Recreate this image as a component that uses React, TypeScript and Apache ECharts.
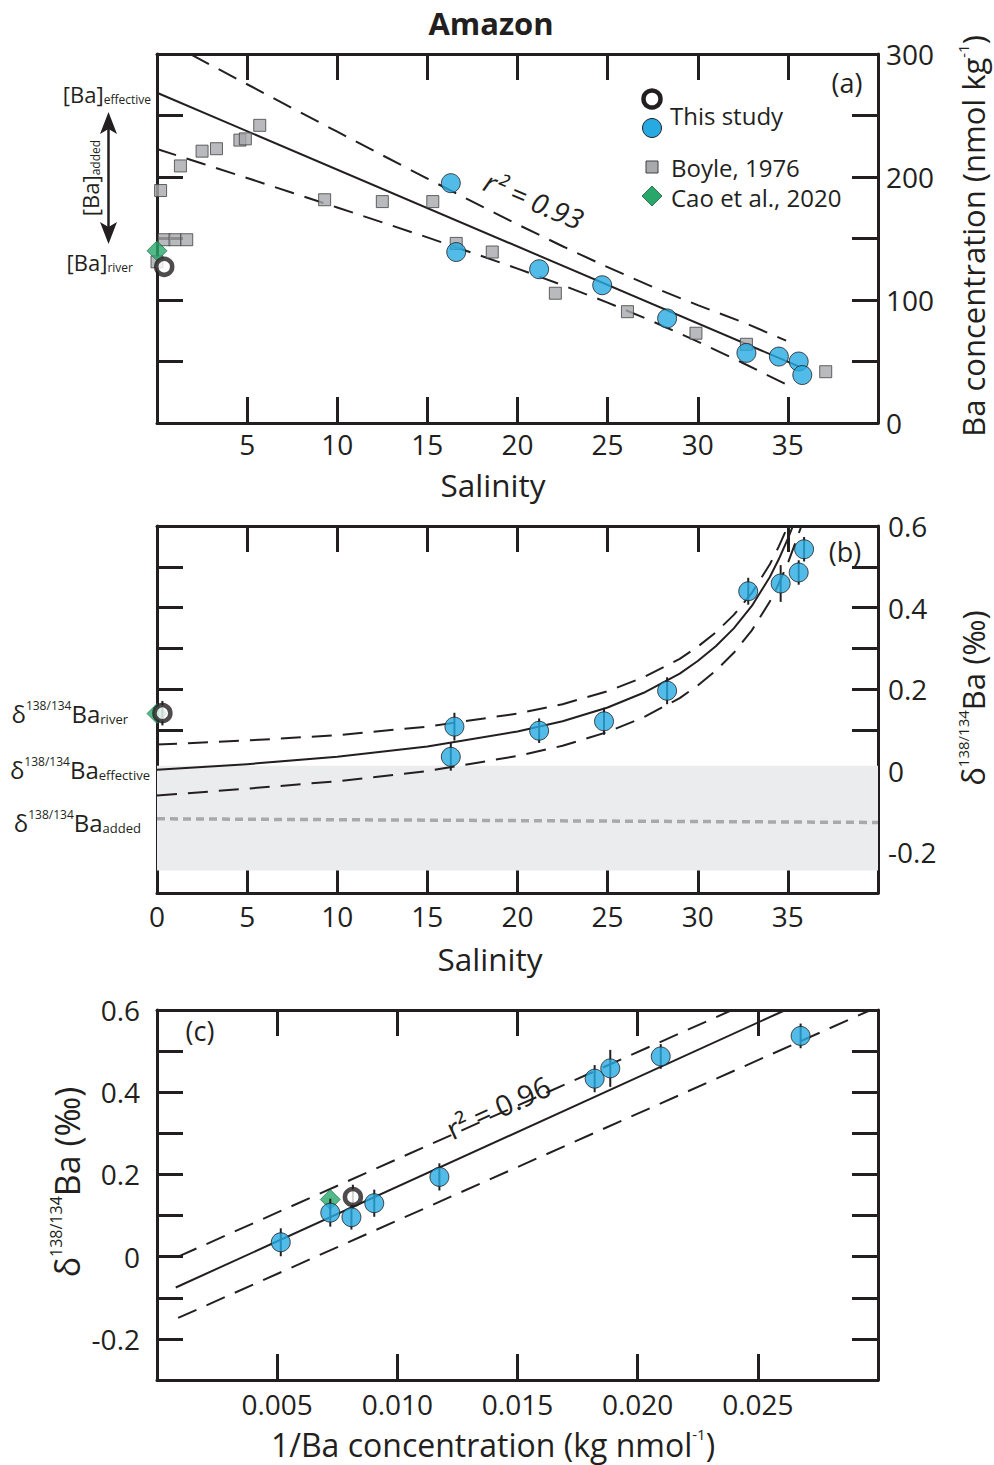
import React, { useEffect, useRef } from 'react';
import * as echarts from 'echarts';

const FONT = '"Open Sans", "Noto Sans", sans-serif';
const INK = '#231f20';
const BLUE = '#27aae1';
const GREY_SQ = '#a7a9ac';
const GREEN = '#27a86a';

// ---------- Panel (a): Ba concentration vs salinity ----------
const boyleSal = [0, 0.2, 0.4, 1.0, 1.65, 1.3, 2.5, 3.3, 4.6, 4.9, 5.7, 9.3, 12.5, 15.3, 16.6, 18.6, 22.1, 26.1, 29.9, 32.7, 37.1];
const boyleBa = [131, 189, 149, 149, 149, 209, 221, 223, 230, 231, 242, 181.5, 180, 180, 146, 139, 105.5, 90.5, 73, 64, 41.7];
const studySalA = [16.3, 16.6, 21.2, 24.7, 28.3, 32.7, 34.5, 35.6, 35.8];
const studyBaA = [195, 139, 125, 112, 85, 57, 54, 50, 39];
const riverA = [0.4, 127];
const caoA = [0, 140];
const fitSalA = [0, 35.6];
const fitBaA = [268.5, 46];
const upSalA = [1.9, 5, 7.5, 10, 12.5, 15, 17.5, 20, 22.5, 25, 27.5, 30, 32.5, 34.9];
const upBaA = [299.4, 275.4, 256, 236.8, 217.7, 198.7, 179.9, 161.5, 143.7, 126.7, 110.6, 95.8, 82, 67];
const loSalA = [0, 2.5, 5, 7.5, 10, 12.5, 15, 17.5, 20, 22.5, 25, 27.5, 30, 32.5, 34.9];
const loBaA = [222.8, 211, 199.2, 187.2, 175.2, 163.1, 150.9, 138.3, 125.5, 112.1, 97.9, 82.6, 66.2, 48.8, 31.5];

// ---------- Panel (b): δ138/134Ba vs salinity ----------
const studySalB = [16.3, 16.5, 21.2, 24.8, 28.3, 32.8, 34.6, 35.6, 35.9];
const studyDeltaB = [0.034, 0.108, 0.098, 0.121, 0.196, 0.44, 0.459, 0.486, 0.543];
const studyErr = [0.034, 0.034, 0.03, 0.033, 0.033, 0.033, 0.045, 0.03, 0.03];
const riverB = [0.3, 0.141];
const riverErr = 0.03;
const caoB = [0, 0.14];
const fitSalB = [0, 5, 10, 15, 20, 22.5, 25, 27, 29, 30, 31, 32, 33, 34, 34.5, 35, 35.28];
const fitDeltaB = [0.0025, 0.016, 0.034, 0.059, 0.096, 0.121, 0.155, 0.191, 0.238, 0.269, 0.305, 0.349, 0.404, 0.475, 0.519, 0.569, 0.6];
const upSalB = [0, 5, 10, 15, 20, 22.5, 25, 27, 29, 30, 31, 32, 33, 34, 34.5, 35];
const upDeltaB = [0.064, 0.074, 0.087, 0.108, 0.14, 0.163, 0.195, 0.229, 0.274, 0.304, 0.339, 0.382, 0.436, 0.506, 0.55, 0.6];
const loSalB = [0, 5, 10, 15, 20, 22.5, 25, 27, 29, 30, 31, 32, 33, 34, 34.5, 35, 35.5, 35.75];
const loDeltaB = [-0.061, -0.044, -0.026, -0.001, 0.036, 0.061, 0.095, 0.131, 0.178, 0.209, 0.245, 0.289, 0.344, 0.415, 0.459, 0.509, 0.569, 0.6];
const addedBand = [0.012, -0.245];
const addedLineSal = [0, 40];
const addedLineDelta = [-0.118, -0.127];

// ---------- Panel (c): δ138/134Ba vs 1/Ba ----------
const invBaC = [0.00515, 0.00721, 0.00809, 0.00904, 0.01175, 0.01821, 0.01886, 0.02096, 0.02678];
const studyDeltaC = [0.035, 0.107, 0.096, 0.13, 0.194, 0.433, 0.458, 0.487, 0.537];
const riverC = [0.00815, 0.145];
const caoC = [0.00721, 0.139];
const fitInvC = [0.00078, 0.02615];
const fitDeltaC = [-0.075, 0.6];
const upInvC = [0.00088, 0.02393];
const upDeltaC = [0.0, 0.6];
const loInvC = [0.00088, 0.0297];
const loDeltaC = [-0.149, 0.6];

const zip = (a: number[], b: number[]) => a.map((v, i) => [v, b[i]]);

const tickLabel = { fontSize: 28, fontFamily: FONT, color: INK };

function axisBase(grid: number, min: number, max: number, interval: number) {
  return {
    type: 'value',
    gridIndex: grid,
    min,
    max,
    interval,
    splitLine: { show: false },
    axisLine: { show: true, onZero: false, lineStyle: { color: INK, width: 3 } },
    axisTick: { show: true, inside: true, length: 26, lineStyle: { color: INK, width: 3 } },
  };
}

function xPair(grid: number, min: number, max: number, interval: number, fmt: (v: number) => string, margin: number) {
  return [
    { ...axisBase(grid, min, max, interval), position: 'bottom', axisLabel: { show: true, interval: 0, margin, formatter: fmt, ...tickLabel } },
    { ...axisBase(grid, min, max, interval), position: 'top', axisLabel: { show: false } },
  ];
}
function yPair(grid: number, min: number, max: number, interval: number, fmt: (v: number) => string, labelSide: 'left' | 'right', margin: number) {
  return [
    { ...axisBase(grid, min, max, interval), position: labelSide, axisLabel: { show: true, interval: 0, margin, formatter: fmt, ...tickLabel } },
    { ...axisBase(grid, min, max, interval), position: labelSide === 'left' ? 'right' : 'left', axisLabel: { show: false } },
  ];
}

const deltaFmt = (v: number) => {
  const r = Math.round(v * 10);
  return r % 2 === 0 ? String(r / 10) : '';
};

function lineSeries(xi: number, data: number[][], dashed: boolean) {
  return {
    type: 'line',
    xAxisIndex: xi,
    yAxisIndex: xi,
    data,
    symbol: 'none',
    smooth: false,
    silent: true,
    z: 2,
    lineStyle: { color: INK, width: 2, type: dashed ? [20, 11] : 'solid', join: 'round' },
  };
}

function scatter(xi: number, data: number[][], kind: 'blue' | 'square' | 'diamond' | 'open') {
  const styles: any = {
    blue: { symbol: 'circle', symbolSize: 19, itemStyle: { color: BLUE, borderColor: INK, borderWidth: 1 }, z: 6 },
    square: { symbol: 'rect', symbolSize: 12, itemStyle: { color: GREY_SQ, borderColor: '#414042', borderWidth: 1 }, z: 3 },
    diamond: { symbol: 'diamond', symbolSize: [20, 20], itemStyle: { color: GREEN, borderColor: '#1d5e3d', borderWidth: 0.8 }, z: 4 },
    open: { symbol: 'circle', symbolSize: 16, itemStyle: { color: '#ffffff', borderColor: INK, borderWidth: 4.5 }, z: 7 },
  };
  return { type: 'scatter', xAxisIndex: xi, yAxisIndex: xi, data, clip: false, silent: true, ...styles[kind] };
}

function errorBars(xi: number, data: number[][]) {
  return {
    type: 'custom',
    xAxisIndex: xi,
    yAxisIndex: xi,
    data,
    silent: true,
    z: 5,
    renderItem: (_p: any, api: any) => {
      const x = api.value(0), y = api.value(1), e = api.value(2);
      const a = api.coord([x, y - e]);
      const b = api.coord([x, y + e]);
      return { type: 'line', shape: { x1: a[0], y1: a[1], x2: b[0], y2: b[1] }, style: { stroke: INK, lineWidth: 2 } };
    },
  };
}

function txt(x: number, y: number, text: string, size: number, extra: any = {}, styleExtra: any = {}) {
  return {
    type: 'text',
    x,
    y,
    z: 20,
    silent: true,
    ...extra,
    style: {
      text,
      fontSize: size,
      fontFamily: FONT,
      fill: INK,
      align: 'center',
      verticalAlign: 'middle',
      lineHeight: size + 2,
      ...styleExtra,
    },
  };
}

function richSet(main: number, sup: number, sub: number) {
  return {
    m: { fontSize: main, fontFamily: FONT, fill: INK, lineHeight: main + 2, verticalAlign: 'bottom' },
    s: { fontSize: sup, fontFamily: FONT, fill: INK, lineHeight: sup + 6, verticalAlign: 'top' },
    u: { fontSize: sub, fontFamily: FONT, fill: INK, lineHeight: main - 2, verticalAlign: 'bottom' },
  };
}

export default function App() {
  const ref = useRef<HTMLDivElement>(null);
  useEffect(() => {
    if (!ref.current) return;
    const chart = echarts.init(ref.current, undefined, { renderer: 'svg' });

    const studyErrB = studySalB.map((s, i) => [s, studyDeltaB[i], studyErr[i]]);
    const studyErrC = invBaC.map((s, i) => [s, studyDeltaC[i], studyErr[i]]);

    const option: any = {
      animation: false,
      textStyle: { fontFamily: FONT },
      grid: [
        { left: 157, top: 54, width: 721, height: 369, outerBoundsMode: 'none' },
        { left: 157, top: 526, width: 721, height: 367, outerBoundsMode: 'none' },
        { left: 157, top: 1010, width: 721, height: 370, outerBoundsMode: 'none' },
      ],
      xAxis: [
        ...xPair(0, 0, 40, 5, (v) => (v === 0 || v === 40 ? '' : String(v)), 7),
        ...xPair(1, 0, 40, 5, (v) => (v === 40 ? '' : String(v)), 9),
        ...xPair(2, 0, 0.03, 0.005, (v) => {
          const r = Math.round(v * 1000);
          return r === 0 || r === 30 ? '' : (r / 1000).toFixed(3);
        }, 10),
      ],
      yAxis: [
        ...yPair(0, 0, 300, 50, (v) => (Math.round(v) % 100 === 0 ? String(v) : ''), 'right', 8),
        ...yPair(1, -0.3, 0.6, 0.1, deltaFmt, 'right', 10),
        ...yPair(2, -0.3, 0.6, 0.1, deltaFmt, 'left', 17),
      ],
      series: [
        // ---- (a) ----
        lineSeries(0, zip(fitSalA, fitBaA), false),
        lineSeries(0, zip(upSalA, upBaA), true),
        lineSeries(0, zip(loSalA, loBaA), true),
        scatter(0, zip(boyleSal, boyleBa), 'square'),
        scatter(0, [caoA], 'diamond'),
        scatter(0, zip(studySalA, studyBaA), 'blue'),
        scatter(0, [riverA], 'open'),
        // ---- (b) ----
        {
          type: 'custom',
          xAxisIndex: 2,
          yAxisIndex: 2,
          silent: true,
          z: 1,
          data: [[0, 40, addedBand[0], addedBand[1]]],
          renderItem: (_p: any, api: any) => {
            const p0 = api.coord([api.value(0), api.value(2)]);
            const p1 = api.coord([api.value(1), api.value(3)]);
            return { type: 'rect', shape: { x: p0[0], y: p0[1], width: p1[0] - p0[0], height: p1[1] - p0[1] }, style: { fill: '#ebeced' } };
          },
        },
        {
          type: 'line',
          xAxisIndex: 2,
          yAxisIndex: 2,
          data: zip(addedLineSal, addedLineDelta),
          symbol: 'none',
          silent: true,
          z: 2,
          lineStyle: { color: '#a7a9ac', width: 3.5, type: [8, 5] },
        },
        lineSeries(2, zip(fitSalB, fitDeltaB), false),
        lineSeries(2, zip(upSalB, upDeltaB), true),
        lineSeries(2, zip(loSalB, loDeltaB), true),
        scatter(2, [caoB], 'diamond'),
        errorBars(2, [...studyErrB, [riverB[0], riverB[1], riverErr]]),
        scatter(2, zip(studySalB, studyDeltaB), 'blue'),
        scatter(2, [riverB], 'open'),
        // ---- (c) ----
        lineSeries(4, zip(fitInvC, fitDeltaC), false),
        lineSeries(4, zip(upInvC, upDeltaC), true),
        lineSeries(4, zip(loInvC, loDeltaC), true),
        scatter(4, [caoC], 'diamond'),
        errorBars(4, [...studyErrC, [riverC[0], riverC[1], riverErr]]),
        scatter(4, zip(invBaC, studyDeltaC), 'blue'),
        scatter(4, [riverC], 'open'),
      ],
      graphic: [
        // title
        txt(491, 23, 'Amazon', 31, {}, { fontWeight: 'bold' }),
        // axis titles
        txt(493, 484, 'Salinity', 31.5),
        txt(490, 958, 'Salinity', 31.5),
        txt(493, 1443, '', 32, {}, {
          text: '{m|1/Ba concentration (kg nmol}{s|-1}{m|)}',
          rich: richSet(32, 15, 15),
        }),
        txt(972, 236, '', 31, { rotation: Math.PI / 2 }, {
          text: '{m|Ba concentration (nmol kg}{s|-1}{m|)}',
          rich: richSet(31, 15, 15),
        }),
        txt(972, 698, '', 31, { rotation: Math.PI / 2 }, {
          text: '{m|δ}{s|138/134}{m|Ba (‰)}',
          rich: richSet(31, 15, 15),
        }),
        txt(66, 1182, '', 34, { rotation: Math.PI / 2 }, {
          text: '{m|δ}{s|138/134}{m|Ba (‰)}',
          rich: richSet(34, 16, 16),
        }),
        // panel letters
        txt(847, 82, '(a)', 27),
        txt(845, 551, '(b)', 27),
        txt(200, 1030, '(c)', 27),
        // r² annotations
        txt(534, 200, 'r² = 0.93', 28, { rotation: -0.40 }, { fontStyle: 'italic' }),
        txt(498, 1107, 'r² = 0.96', 29, { rotation: 0.43 }),
        // legend (a)
        { type: 'circle', shape: { cx: 652, cy: 99, r: 8.5 }, style: { fill: '#fff', stroke: INK, lineWidth: 4.5 }, z: 20, silent: true },
        { type: 'circle', shape: { cx: 652, cy: 128, r: 9.5 }, style: { fill: BLUE, stroke: INK, lineWidth: 1 }, z: 20, silent: true },
        { type: 'rect', shape: { x: 646, y: 161, width: 12, height: 12 }, style: { fill: GREY_SQ, stroke: '#414042', lineWidth: 1 }, z: 20, silent: true },
        { type: 'polygon', shape: { points: [[652, 186], [662, 196], [652, 206], [642, 196]] }, style: { fill: GREEN, stroke: '#1d5e3d', lineWidth: 0.8 }, z: 20, silent: true },
        txt(670, 115, 'This study', 24, {}, { align: 'left' }),
        txt(671, 167, 'Boyle, 1976', 24, {}, { align: 'left' }),
        txt(671, 197, 'Cao et al., 2020', 24, {}, { align: 'left' }),
        // left annotations (a)
        txt(151, 93, '', 22, {}, {
          align: 'right',
          text: '{m|[Ba]}{u|effective}',
          rich: richSet(22, 12, 12),
        }),
        txt(133, 261, '', 22, {}, {
          align: 'right',
          text: '{m|[Ba]}{u|river}',
          rich: richSet(22, 12, 12),
        }),
        txt(89, 178, '', 22, { rotation: Math.PI / 2 }, {
          text: '{m|[Ba]}{u|added}',
          rich: richSet(22, 12, 12),
        }),
        { type: 'line', shape: { x1: 108.5, y1: 128, x2: 108.5, y2: 228 }, style: { stroke: INK, lineWidth: 2.5 }, z: 20, silent: true },
        { type: 'polygon', shape: { points: [[108.5, 112], [100, 134], [108.5, 129], [117, 134]] }, style: { fill: INK }, z: 20, silent: true },
        { type: 'polygon', shape: { points: [[108.5, 244], [100, 222], [108.5, 227], [117, 222]] }, style: { fill: INK }, z: 20, silent: true },
        // left annotations (b)
        txt(128, 712, '', 24, {}, {
          align: 'right',
          text: '{m|δ}{s|138/134}{m|Ba}{u|river}',
          rich: richSet(24, 12, 13),
        }),
        txt(150, 768, '', 24, {}, {
          align: 'right',
          text: '{m|δ}{s|138/134}{m|Ba}{u|effective}',
          rich: richSet(24, 12, 13),
        }),
        txt(141, 821, '', 24, {}, {
          align: 'right',
          text: '{m|δ}{s|138/134}{m|Ba}{u|added}',
          rich: richSet(24, 12, 13),
        }),
      ],
    };
    chart.setOption(option);
    return () => chart.dispose();
  }, []);
  return <div ref={ref} style={{ position: 'absolute', left: 0, top: 0, width: 994, height: 1465, background: '#fff' }} />;
}
